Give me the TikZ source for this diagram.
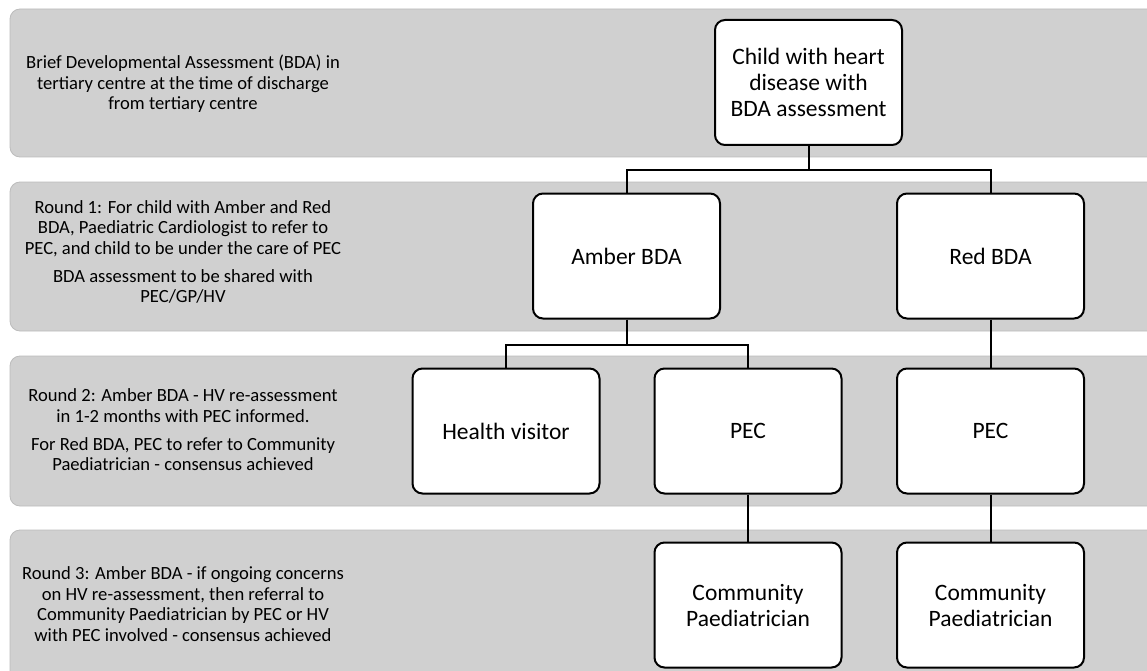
\documentclass[tikz,border=0pt]{standalone}
\usepackage{fontspec}
\setmainfont{Carlito}
\usepackage{xcolor}
\usetikzlibrary{positioning}
\definecolor{bandcolor}{RGB}{208, 208, 208}
\definecolor{bandedge}{RGB}{188, 188, 188}

\begin{document}
\begin{tikzpicture}[
			x=1pt, y=-1pt,
			band/.style={
				fill=bandcolor,
				draw=bandedge,
				line width=0.8pt,
				rounded corners=10pt
			},
			roundtext/.style={
				align=center,
				font=\fontsize{18.6}{20.6}\selectfont
			},
			pathbox/.style={
				rectangle,
				rounded corners=10pt,
				minimum width=187pt,
				minimum height=125pt,
				align=center,
				draw=black,
				fill=white,
				line width=2pt,
				font=\fontsize{23.5}{26}\selectfont
			},
			link/.style={draw=black, line width=2pt}
			]
			
			\useasboundingbox (0,0) rectangle (1147,671);
			\clip (0,0) rectangle (1147,671);
			
			% background bands
			\path[band] (10,9) rectangle (1170,157);
			\path[band] (10,182) rectangle (1170,331);
			\path[band] (10,356) rectangle (1170,506);
			\path[band] (10,530) rectangle (1170,700);
			
			\node[roundtext] (t0) at (183,84)
			{Brief Developmental Assessment (BDA) in\\tertiary centre at the time of discharge\\from tertiary centre};
			
			\node[roundtext] (t1) at (183,252)
			{Round 1: For child with Amber and Red\\BDA, Paediatric Cardiologist to refer to\\PEC, and child to be under the care of PEC\\[7pt]BDA assessment to be shared with\\PEC/GP/HV};
			
			\node[roundtext] (t2) at (183,430)
			{Round 2: Amber BDA - HV re-assessment\\in 1-2 months with PEC informed.\\[7pt]For Red BDA, PEC to refer to Community\\Paediatrician - consensus achieved};
			
			\node[roundtext] (t3) at (183,604)
			{Round 3: Amber BDA - if ongoing concerns\\on HV re-assessment, then referral to\\Community Paediatrician by PEC or HV\\with PEC involved - consensus achieved};
			
			% pathway boxes
			\node[pathbox] (child) at (808.5,82.5)
			{Child with heart\\disease with\\BDA assessment};
			
			\node[pathbox] (amber) at (626.5,256) {Amber BDA};
			\node[pathbox] (red) at (990.5,256) {Red BDA};
			
			\node[pathbox] (hv) at (506,431) {Health visitor};
			\node[pathbox] (pec1) at (748,431) {PEC};
			\node[pathbox] (pec2) at (990.5,431) {PEC};
			
			\node[pathbox] (cp1) at (748,605) {Community\\Paediatrician};
			\node[pathbox] (cp2) at (990.5,605) {Community\\Paediatrician};
			
			% connectors
			\draw[link] (child.south) -- ++(0,24) -| (amber.north);
			\draw[link] (child.south) -- ++(0,24) -| (red.north);
			
			\draw[link] (amber.south) -- ++(0,25) -| (hv.north);
			\draw[link] (amber.south) -- ++(0,25) -| (pec1.north);
			
			\draw[link] (red.south) -- (pec2.north);
			\draw[link] (pec1.south) -- (cp1.north);
			\draw[link] (pec2.south) -- (cp2.north);
			
		\end{tikzpicture}
\end{document}
